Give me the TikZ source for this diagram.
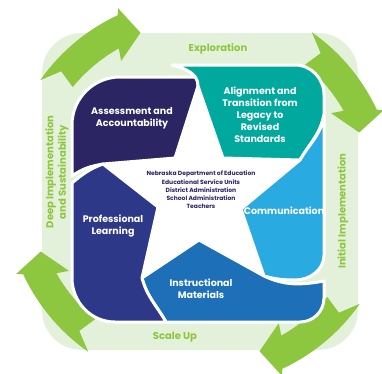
\documentclass[tikz,border=0pt]{standalone}
\usepackage{fontspec}
\setmainfont{Poppins}
\usetikzlibrary{topaths}
\definecolor{bandgreen}{HTML}{E4F1DA}
\definecolor{arrowgreen}{HTML}{8DC63F}
\definecolor{navyblock}{HTML}{2B2563}
\definecolor{tealblock}{HTML}{00A89D}
\definecolor{skyblock}{HTML}{29AAE1}
\definecolor{midblock}{HTML}{1D70B7}
\definecolor{royalblock}{HTML}{2E3889}
\tikzstyle{petal} = [draw=white, line width=3pt, line join=round]
\tikzstyle{blocklabel} = [text=white, font=\bfseries\fontsize{9.5}{12}\selectfont, align=center]
\tikzstyle{stagelabel} = [text=arrowgreen, font=\bfseries\fontsize{10}{12.5}\selectfont, align=center]
\tikzstyle{hublabel} = [text=navyblock, font=\bfseries\fontsize{6}{8.2}\selectfont, align=center]

\begin{document}
\begin{tikzpicture}[x=1pt, y=-1pt]
	\useasboundingbox (0,0) rectangle (382,373);
	% light band and the four turning arrows
	\fill[bandgreen, rounded corners=40pt] (42,33) rectangle (358,350);
	\begin{scope}[shift={(200,192)}]
		\foreach \a in {55,145,235,325}
			\fill[arrowgreen] (\a:195pt) arc[start angle=\a, end angle=\a-30, radius=195pt] -- (\a-31:201pt) -- (\a-34.5:170pt) -- (\a-24:153pt) -- (\a-25.5:165pt) arc[start angle=\a-25.5, end angle=\a-4.5, radius=165pt] -- (\a-6:184pt) -- cycle;
	\end{scope}
	% star points
	\coordinate (ttop) at (198,86);
	\coordinate (itr) at (223,158);
	\coordinate (trt) at (300,160);
	\coordinate (ir) at (241,209);
	\coordinate (tlr) at (264,276);
	\coordinate (ib) at (199,240);
	\coordinate (tll) at (142,278);
	\coordinate (il) at (158,207);
	\coordinate (tlf) at (103,164);
	\coordinate (itl) at (175,158);
	\fill[white] (ttop) -- (itr) -- (trt) -- (ir) -- (tlr) -- (ib) -- (tll) -- (il) -- (tlf) -- (itl) -- cycle;
	% the five blocks
	\path[petal, fill=navyblock] (itl) -- (ttop) -- (199,77) -- (120,77) to[out=180,in=90] (72,125) -- (72,176) to[out=35,in=190] (tlf) -- cycle;
	\path[petal, fill=tealblock] (ttop) -- (itr) -- (trt) to[out=60,in=-100] (324,114) -- (324,95) to[out=90,in=0] (295,65) -- (172,65) to[out=-15,in=90] (ttop) -- cycle;
	\path[petal, fill=skyblock] (trt) -- (ir) -- (tlr) to[out=-15,in=180] (295,280) to[out=0,in=-90] (324,255) -- (324,116) to[out=-100,in=60] (trt) -- cycle;
	\path[petal, fill=midblock] (tll) -- (ib) -- (tlr) to[out=-25,in=190] (324,281) -- (324,298) to[out=-90,in=0] (300,322) -- (166,322) to[out=120,in=-75] (tll) -- cycle;
	\path[petal, fill=royalblock] (tlf) -- (il) -- (tll) to[out=-75,in=120] (166,322) -- (115,322) to[out=180,in=-90] (72,278) -- (72,183) to[out=40,in=200] (tlf) -- cycle;
	% labels
	\node[blocklabel] (assess) at (132,118) {Assessment and\\Accountability};
	\node[blocklabel] (align) at (260,115) {Alignment and\\Transition from\\Legacy to\\Revised\\Standards};
	\node[blocklabel] (comm) at (284,211) {Communication};
	\node[blocklabel] (instr) at (201,289) {Instructional\\Materials};
	\node[blocklabel] (prof) at (113,226) {Professional\\Learning};
	\node[hublabel] (hub) at (201,190) {Nebraska Department of Education\\Educational Service Units\\District Administration\\School Administration\\Teachers};
	\node[stagelabel] (explore) at (218,49) {Exploration};
	\node[stagelabel] (scale) at (175,337) {Scale Up};
	\node[stagelabel, rotate=90] (initial) at (343,211) {Initial Implementation};
	\node[stagelabel, rotate=90] (deep) at (57,172) {Deep Implementation\\and Sustainability};
\end{tikzpicture}
\end{document}
